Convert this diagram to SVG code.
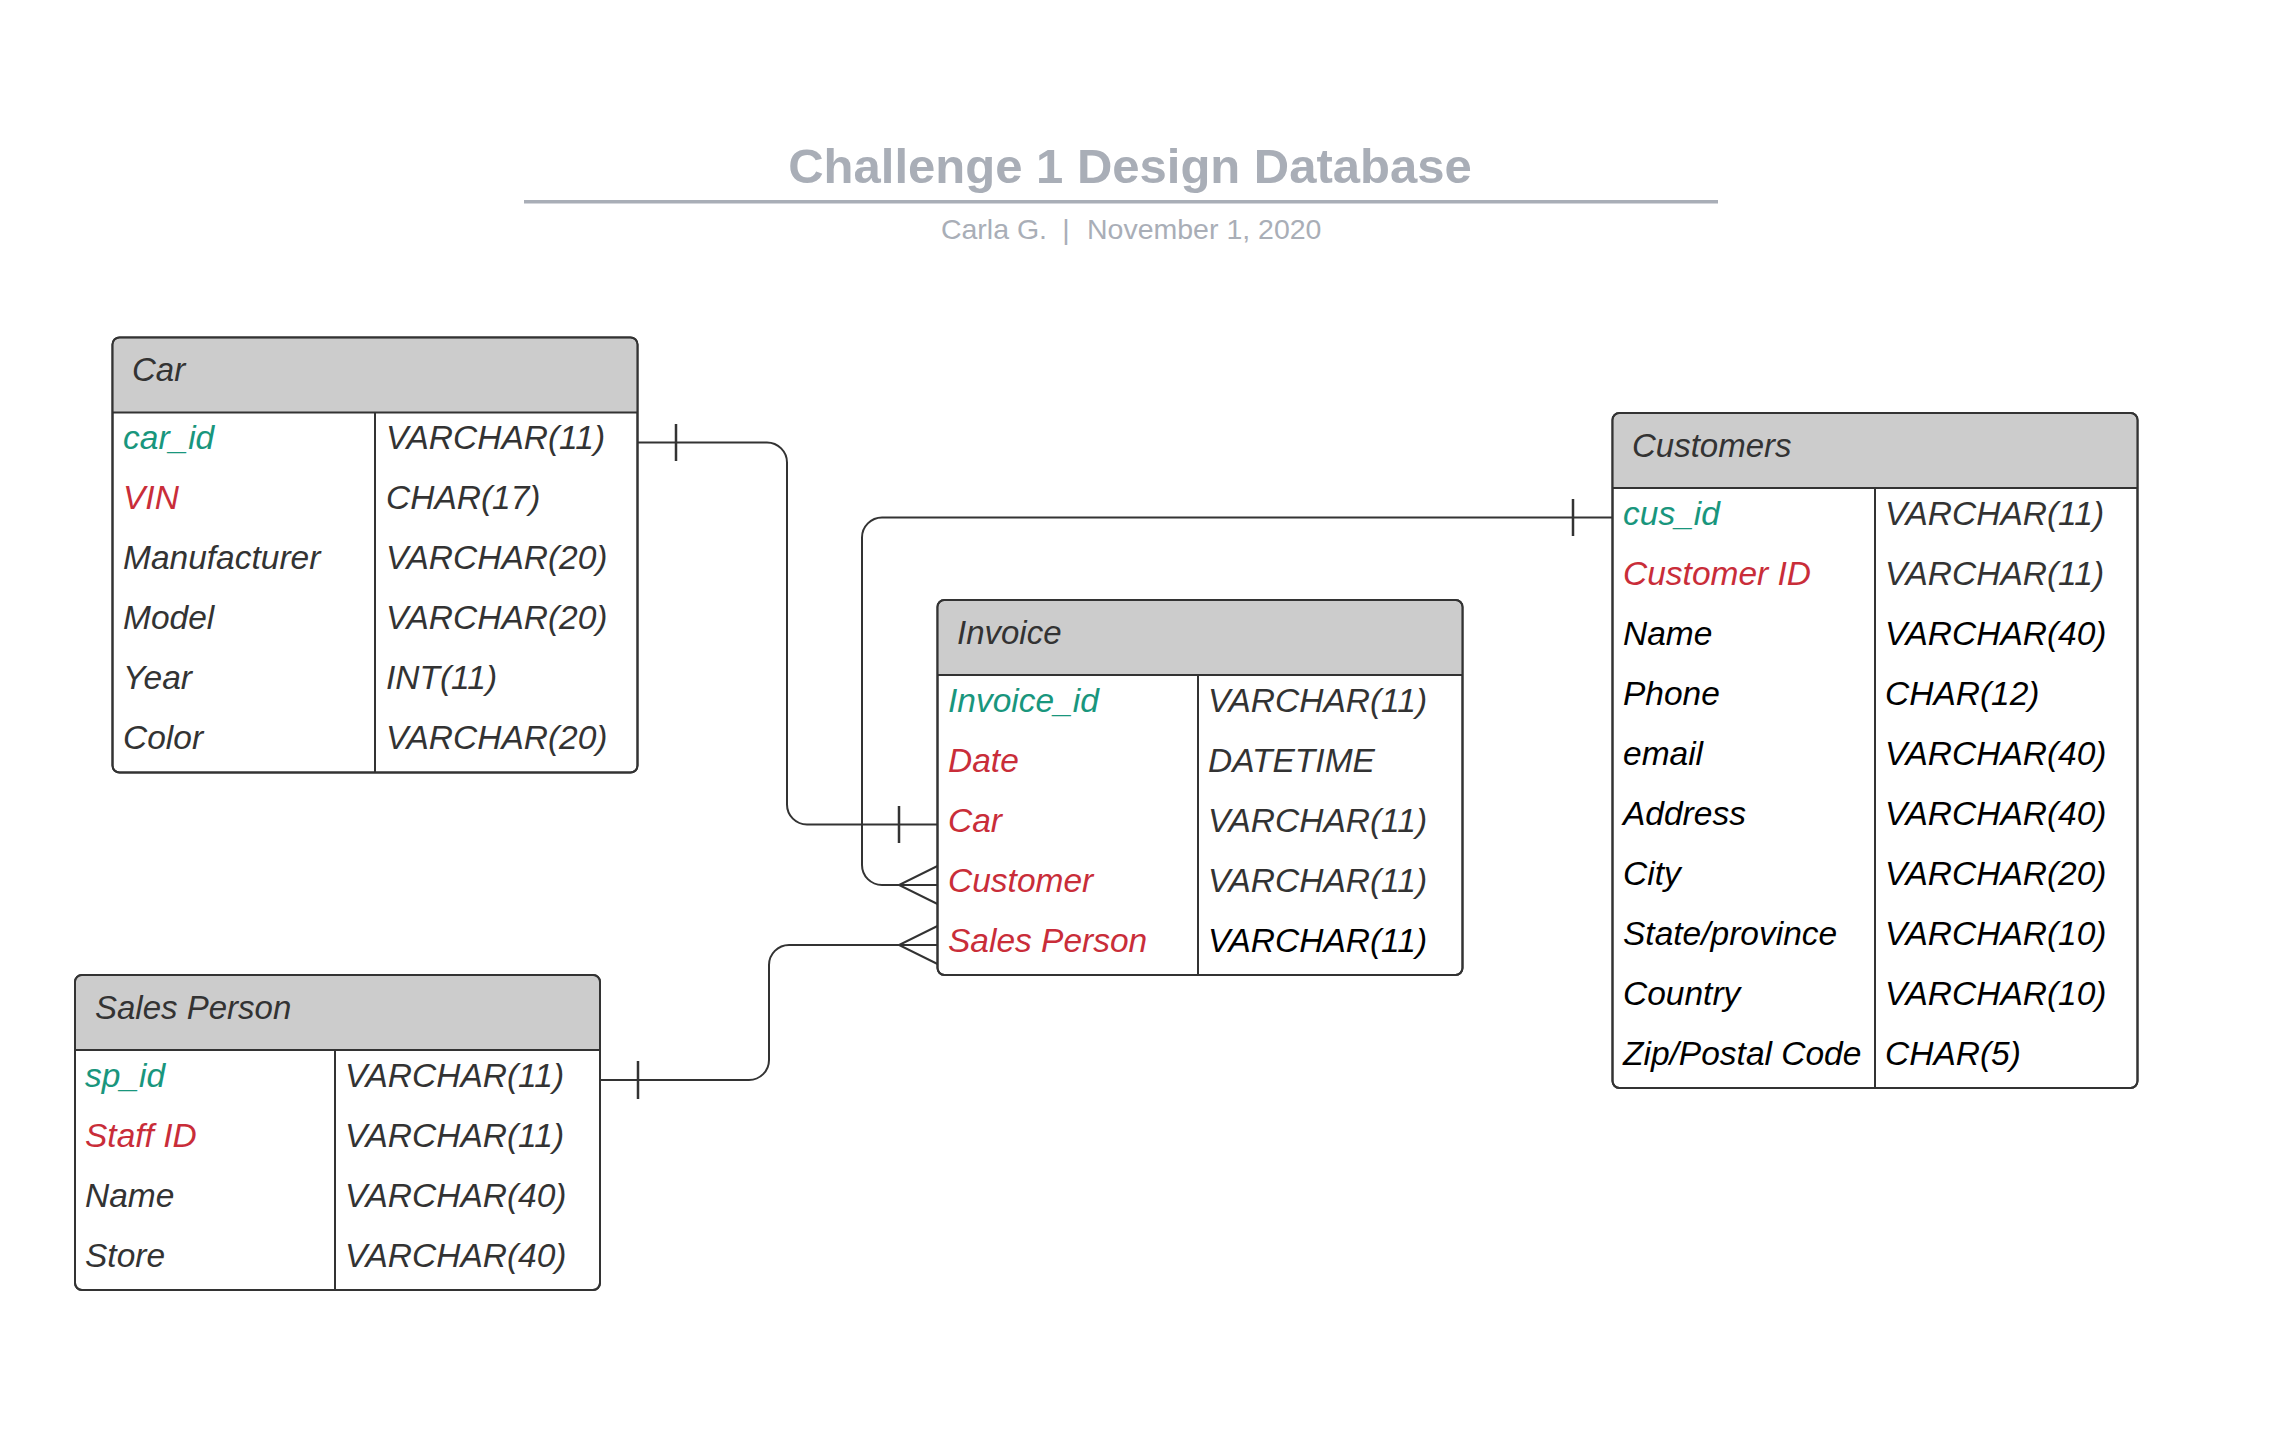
<svg xmlns="http://www.w3.org/2000/svg" width="2284" height="1431" viewBox="0 0 2284 1431">
<style>
text{font-family:"Liberation Sans",Arial,sans-serif}
.title{font-size:49px;font-weight:bold;fill:#a9aeb7}
.sub{font-size:28.5px;fill:#a9aeb7}
.box{fill:#ffffff;stroke:#333333;stroke-width:2}
.hdr{fill:#cccccc;stroke:none}
.sep{stroke:#333333;stroke-width:2;fill:none}
.ht{font-size:33px;font-style:italic;fill:#333333}
.f{font-size:33.5px;font-style:italic;fill:#333333}
.k{fill:#19967d}
.r{fill:#c92d39}
.b{fill:#000000}
.ln{fill:none;stroke:#333333;stroke-width:2}
.tk{fill:none;stroke:#333333;stroke-width:2.5}
</style>
<rect width="2284" height="1431" fill="#ffffff"/>
<g id="title">
<text class="title" x="1130" y="183" text-anchor="middle">Challenge 1 Design Database</text>
<rect x="524" y="200" width="1194" height="3.5" fill="#a9aeb7"/>
<text class="sub" x="1047" y="239" text-anchor="end">Carla G.</text>
<text class="sub" x="1066" y="239" text-anchor="middle">|</text>
<text class="sub" x="1087" y="239">November 1, 2020</text>
</g>
<g id="connectors">
<path class="ln" d="M637.5 442.5 H767 A20 20 0 0 1 787 462.5 V804.5 A20 20 0 0 0 807 824.5 H937.5"/>
<path class="tk" d="M676 424 V461 M899 806 V843"/>
<path class="ln" d="M1612.5 517.5 H882 A20 20 0 0 0 862 537.5 V865 A20 20 0 0 0 882 885 H937.5"/>
<path class="tk" d="M1573 499 V536"/>
<path class="ln" d="M937.5 866 L899 885 L937.5 904"/>
<path class="ln" d="M600 1080 H749 A20 20 0 0 0 769 1060 V965 A20 20 0 0 1 789 945 H937.5"/>
<path class="tk" d="M638 1061 V1099"/>
<path class="ln" d="M937.5 926 L899 945 L937.5 964"/>
</g>
<g id="car">
<rect class="box" x="112.5" y="337.5" width="525" height="435" rx="7"/>
<path class="hdr" d="M113.5 412.5 V345 A6 6 0 0 1 119.5 338.5 H630.5 A6 6 0 0 1 636.5 345 V412.5 Z"/>
<path class="sep" d="M112.5 412.5 H637.5 M375 412.5 V772.5"/>
<rect x="112.5" y="337.5" width="525" height="435" rx="7" fill="none" stroke="#333333" stroke-width="2"/>
<text class="ht" x="132" y="381">Car</text>
<text class="f k" x="123" y="449">car_id</text>
<text class="f" x="386" y="449">VARCHAR(11)</text>
<text class="f r" x="123" y="509">VIN</text>
<text class="f" x="386" y="509">CHAR(17)</text>
<text class="f" x="123" y="569">Manufacturer</text>
<text class="f" x="386" y="569">VARCHAR(20)</text>
<text class="f" x="123" y="629">Model</text>
<text class="f" x="386" y="629">VARCHAR(20)</text>
<text class="f" x="123" y="689">Year</text>
<text class="f" x="386" y="689">INT(11)</text>
<text class="f" x="123" y="749">Color</text>
<text class="f" x="386" y="749">VARCHAR(20)</text>
</g>
<g id="invoice">
<rect class="box" x="937.5" y="600" width="525" height="375" rx="7"/>
<path class="hdr" d="M938.5 675 V607.5 A6 6 0 0 1 944.5 601 H1455.5 A6 6 0 0 1 1461.5 607.5 V675 Z"/>
<path class="sep" d="M937.5 675 H1462.5 M1198 675 V975"/>
<rect x="937.5" y="600" width="525" height="375" rx="7" fill="none" stroke="#333333" stroke-width="2"/>
<text class="ht" x="957" y="644">Invoice</text>
<text class="f k" x="948" y="712">Invoice_id</text>
<text class="f" x="1208" y="712">VARCHAR(11)</text>
<text class="f r" x="948" y="772">Date</text>
<text class="f" x="1208" y="772">DATETIME</text>
<text class="f r" x="948" y="832">Car</text>
<text class="f" x="1208" y="832">VARCHAR(11)</text>
<text class="f r" x="948" y="892">Customer</text>
<text class="f" x="1208" y="892">VARCHAR(11)</text>
<text class="f r" x="948" y="952">Sales Person</text>
<text class="f b" x="1208" y="952">VARCHAR(11)</text>
</g>
<g id="customers">
<rect class="box" x="1612.5" y="413" width="525" height="675" rx="7"/>
<path class="hdr" d="M1613.5 488 V420.5 A6 6 0 0 1 1619.5 414 H2130.5 A6 6 0 0 1 2136.5 420.5 V488 Z"/>
<path class="sep" d="M1612.5 488 H2137.5 M1875 488 V1088"/>
<rect x="1612.5" y="413" width="525" height="675" rx="7" fill="none" stroke="#333333" stroke-width="2"/>
<text class="ht" x="1632" y="457">Customers</text>
<text class="f k" x="1623" y="525">cus_id</text>
<text class="f" x="1885" y="525">VARCHAR(11)</text>
<text class="f r" x="1623" y="585">Customer ID</text>
<text class="f" x="1885" y="585">VARCHAR(11)</text>
<text class="f b" x="1623" y="645">Name</text>
<text class="f b" x="1885" y="645">VARCHAR(40)</text>
<text class="f b" x="1623" y="705">Phone</text>
<text class="f b" x="1885" y="705">CHAR(12)</text>
<text class="f b" x="1623" y="765">email</text>
<text class="f b" x="1885" y="765">VARCHAR(40)</text>
<text class="f b" x="1623" y="825">Address</text>
<text class="f b" x="1885" y="825">VARCHAR(40)</text>
<text class="f b" x="1623" y="885">City</text>
<text class="f b" x="1885" y="885">VARCHAR(20)</text>
<text class="f b" x="1623" y="945">State/province</text>
<text class="f b" x="1885" y="945">VARCHAR(10)</text>
<text class="f b" x="1623" y="1005">Country</text>
<text class="f b" x="1885" y="1005">VARCHAR(10)</text>
<text class="f b" x="1623" y="1065">Zip/Postal Code</text>
<text class="f b" x="1885" y="1065">CHAR(5)</text>
</g>
<g id="sales_person">
<rect class="box" x="75" y="975" width="525" height="315" rx="7"/>
<path class="hdr" d="M76 1050 V982.5 A6 6 0 0 1 82 976 H593 A6 6 0 0 1 599 982.5 V1050 Z"/>
<path class="sep" d="M75 1050 H600 M335 1050 V1290"/>
<rect x="75" y="975" width="525" height="315" rx="7" fill="none" stroke="#333333" stroke-width="2"/>
<text class="ht" x="95" y="1019">Sales Person</text>
<text class="f k" x="85" y="1087">sp_id</text>
<text class="f" x="345" y="1087">VARCHAR(11)</text>
<text class="f r" x="85" y="1147">Staff ID</text>
<text class="f" x="345" y="1147">VARCHAR(11)</text>
<text class="f" x="85" y="1207">Name</text>
<text class="f" x="345" y="1207">VARCHAR(40)</text>
<text class="f" x="85" y="1267">Store</text>
<text class="f" x="345" y="1267">VARCHAR(40)</text>
</g>
</svg>
